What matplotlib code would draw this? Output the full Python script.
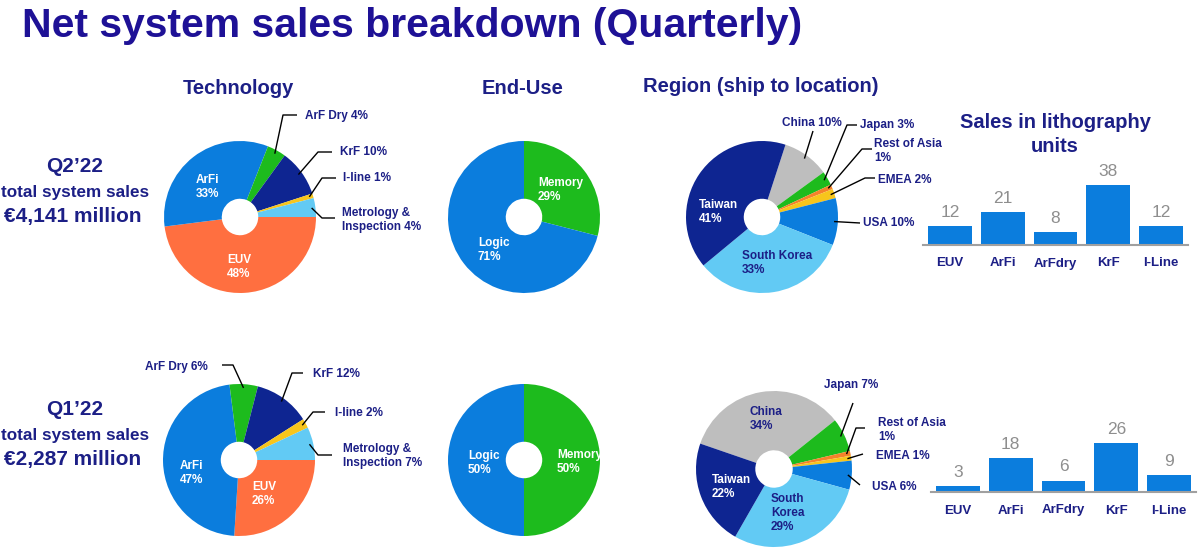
import numpy as np
import matplotlib
matplotlib.use("Agg")
import matplotlib.pyplot as plt

plt.rcParams['font.family'] = ['Liberation Sans', 'DejaVu Sans']

W, H = 1200, 551

# data
tech_names = ['EUV', 'ArFi', 'ArF Dry', 'KrF', 'I-line', 'Metrology &\nInspection']
tech_q2 = [48, 33, 4, 10, 1, 4]
tech_q1 = [26, 47, 6, 12, 2, 7]

end_names = ['Memory', 'Logic']
end_q2 = [29, 71]
end_q1 = [50, 50]

region_names = ['China', 'Japan', 'Rest of Asia', 'EMEA', 'USA', 'South Korea', 'Taiwan']
region_q2 = [10, 3, 1, 2, 10, 33, 41]
region_q1 = [34, 7, 1, 1, 6, 29, 22]

unit_names = ['EUV', 'ArFi', 'ArFdry', 'KrF', 'I-Line']
units_q2 = [12, 21, 8, 38, 12]
units_q1 = [3, 18, 6, 26, 9]

quarters = ['Q2\u201922', 'Q1\u201922']
total_sales = ['\u20ac4,141 million', '\u20ac2,287 million']

# colours
NAVY_T = '#1E1196'
NAVY = '#1C1F86'
BLUE = '#0B7DDD'
ORANGE = '#FF6F40'
GREEN = '#1DBB1D'
DNAVY = '#0E2591'
YELLOW = '#F7C51C'
LBLUE = '#62CAF4'
GRAY = '#BEBEBE'
RORANGE = '#F5822A'

tech_colors = [ORANGE, BLUE, GREEN, DNAVY, YELLOW, LBLUE]
end_colors = [GREEN, BLUE]
region_colors = [GRAY, GREEN, RORANGE, YELLOW, BLUE, LBLUE, DNAVY]

fig = plt.figure(figsize=(W / 100, H / 100), dpi=100)

# overlay in pixel coordinates for texts and leader lines
ax0 = fig.add_axes([0, 0, 1, 1], zorder=5)
ax0.set_xlim(0, W)
ax0.set_ylim(H, 0)
ax0.axis('off')
ax0.patch.set_alpha(0)


def txt(x, y, s, size=8.5, color=NAVY, ha='left', va='center', **kw):
    ax0.text(x, y, s, fontsize=size, color=color, ha=ha, va=va,
             fontweight='bold', multialignment='left', **kw)


def pie_at(cx, cy, r, vals, cols, start):
    s = 1.03
    ax = fig.add_axes([(cx - s * r) / W, (H - cy - s * r) / H, 2 * s * r / W, 2 * s * r / H])
    wedges, _ = ax.pie(vals, colors=cols, startangle=start, counterclock=False,
                       radius=1, wedgeprops=dict(width=0.76, linewidth=0))
    ax.set_xlim(-s, s)
    ax.set_ylim(-s, s)
    ax.set_aspect('auto')
    ax.axis('off')
    return ax, wedges


def leader(ax, w, pts, rr=0.95):
    a = np.deg2rad((w.theta1 + w.theta2) / 2)
    x0, y0 = ax0.transData.inverted().transform(
        ax.transData.transform((rr * np.cos(a), rr * np.sin(a))))
    ax0.plot([x0] + [p[0] for p in pts], [y0] + [p[1] for p in pts],
             color='black', lw=1, solid_capstyle='butt')


def bars_at(x0, x1, ybase, ytop, vals, ymax):
    ax = fig.add_axes([x0 / W, (H - ybase) / H, (x1 - x0) / W, (ybase - ytop) / H])
    x = np.arange(len(vals))
    ax.bar(x, vals, width=0.83, color=BLUE)
    for i, v in enumerate(vals):
        ax.annotate(str(v), (i, v), xytext=(0, 4.5), textcoords='offset points',
                    ha='center', va='bottom', fontsize=12.5, color='#8E8E8E')
    ax.set_xlim(-0.51, len(vals) - 0.49)
    ax.set_ylim(0, ymax)
    for sp in ['top', 'left', 'right']:
        ax.spines[sp].set_visible(False)
    ax.spines['bottom'].set_color('#A0A0A0')
    ax.spines['bottom'].set_linewidth(1.5)
    ax.set_yticks([])
    ax.set_xticks(x)
    ax.set_xticklabels(unit_names, fontsize=9.5, fontweight='bold', color=NAVY)
    ax.tick_params(axis='x', length=0, pad=9)
    ax.patch.set_alpha(0)
    return ax


# titles
ax0.text(22, 37, 'Net system sales breakdown (Quarterly)', fontsize=29.5,
         fontweight='bold', color=NAVY_T, ha='left', va='baseline')
for x, y, s in [(238, 94, 'Technology'), (523, 94, 'End-Use'),
                (761, 92, 'Region (ship to location)'),
                (1055, 128, 'Sales in lithography'), (1055, 152, 'units')]:
    ax0.text(x, y, s, fontsize=14.5, fontweight='bold', color=NAVY, ha='center', va='baseline')

# left block
for q, sales, yb in zip(quarters, total_sales, [172, 415]):
    ax0.text(75, yb, q, fontsize=15, fontweight='bold', color=NAVY, ha='center', va='baseline')
    ax0.text(75, yb + 25, 'total system sales', fontsize=12.3, fontweight='bold',
             color=NAVY, ha='center', va='baseline')
    ax0.text(73, yb + 50, sales, fontsize=15, fontweight='bold', color=NAVY,
             ha='center', va='baseline')

# ---- Technology Q2
ax, w = pie_at(240, 217, 76, tech_q2, tech_colors, 0)
txt(196, 187, f'{tech_names[1]}\n{tech_q2[1]}%', color='white')
txt(227, 267, f'{tech_names[0]}\n{tech_q2[0]}%', color='white')
leader(ax, w[2], [(283, 115), (297, 115)])
txt(305, 116, f'{tech_names[2]} {tech_q2[2]}%')
leader(ax, w[3], [(318, 152), (332, 152)])
txt(340, 152, f'{tech_names[3]} {tech_q2[3]}%')
leader(ax, w[4], [(322, 178), (336, 178)])
txt(343, 178, f'{tech_names[4]} {tech_q2[4]}%')
leader(ax, w[5], [(322, 218), (335, 218)])
txt(342, 220, f'{tech_names[5]} {tech_q2[5]}%')

# ---- Technology Q1
ax, w = pie_at(239, 460, 76, tech_q1, tech_colors, 0)
txt(180, 473, f'{tech_names[1]}\n{tech_q1[1]}%', color='white')
txt(252, 494, f'{tech_names[0]}\n{tech_q1[0]}%', color='white')
leader(ax, w[2], [(233, 365), (222, 365)])
txt(208, 367, f'{tech_names[2]} {tech_q1[2]}%', ha='right')
leader(ax, w[3], [(292, 373), (303, 373)])
txt(313, 374, f'{tech_names[3]} {tech_q1[3]}%')
leader(ax, w[4], [(313, 412), (325, 412)])
txt(335, 413, f'{tech_names[4]} {tech_q1[4]}%')
leader(ax, w[5], [(318, 455), (332, 455)])
txt(343, 456, f'{tech_names[5]} {tech_q1[5]}%')

# ---- End-Use
ax, w = pie_at(524, 217, 76, end_q2, end_colors, 90)
txt(538, 190, f'{end_names[0]}\n{end_q2[0]}%', color='white')
txt(478, 250, f'{end_names[1]}\n{end_q2[1]}%', color='white')
ax, w = pie_at(524, 460, 76, end_q1, end_colors, 90)
txt(557, 462, f'{end_names[0]}\n{end_q1[0]}%', color='white')
txt(468, 463, f'{end_names[1]}\n{end_q1[1]}%', color='white')

# ---- Region Q2
ax, w = pie_at(762, 217, 76, region_q2, region_colors, 72)
txt(699, 212, f'{region_names[6]}\n{region_q2[6]}%', color='white')
txt(742, 263, f'{region_names[5]}\n{region_q2[5]}%')
leader(ax, w[0], [(813, 131)])
txt(782, 123, f'{region_names[0]} {region_q2[0]}%')
leader(ax, w[1], [(847, 125), (857, 125)])
txt(860, 125, f'{region_names[1]} {region_q2[1]}%')
leader(ax, w[2], [(862, 149), (872, 149)])
txt(874, 151, f'{region_names[2]}\n{region_q2[2]}%')
leader(ax, w[3], [(865, 178), (875, 178)])
txt(878, 180, f'{region_names[3]} {region_q2[3]}%')
leader(ax, w[4], [(860, 223)])
txt(863, 223, f'{region_names[4]} {region_q2[4]}%')

# ---- Region Q1
ax, w = pie_at(774, 469, 78, region_q1, region_colors, 161)
txt(750, 419, f'{region_names[0]}\n{region_q1[0]}%')
txt(712, 487, f'{region_names[6]}\n{region_q1[6]}%', color='white')
txt(771, 513, 'South\nKorea\n' + f'{region_q1[5]}%')
leader(ax, w[1], [(853, 403)])
txt(824, 385, f'{region_names[1]} {region_q1[1]}%')
leader(ax, w[2], [(856, 428), (865, 428)])
txt(878, 430, f'{region_names[2]}\n{region_q1[2]}%')
leader(ax, w[3], [(863, 454)])
txt(876, 456, f'{region_names[3]} {region_q1[3]}%')
leader(ax, w[4], [(860, 485)])
txt(872, 487, f'{region_names[4]} {region_q1[4]}%')

# ---- bars
bars_at(923, 1188, 245, 165, units_q2, 50.7)
bars_at(931, 1196, 492, 412, units_q1, 42.5)

fig.savefig('out.png', dpi=100)
